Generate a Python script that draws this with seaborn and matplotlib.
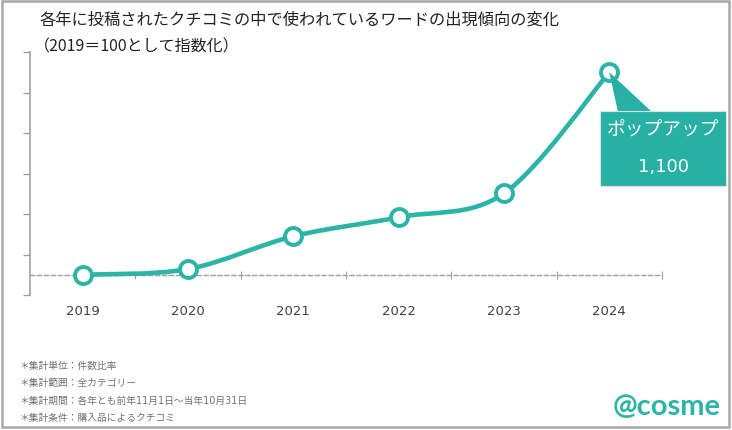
# Word trend chart: index of review mentions (2019 = 100)
import matplotlib.pyplot as plt
import seaborn as sns
import pandas as pd
from matplotlib.path import Path
from matplotlib.patches import PathPatch, Rectangle, Polygon

years = ["2019", "2020", "2021", "2022", "2023", "2024"]
index_values = [100, 128, 290, 384, 502, 1100]
callout_word = "ポップアップ"
callout_value = "1,100"

title = "各年に投稿されたクチコミの中で使われているワードの出現傾向の変化"
subtitle = "（2019＝100として指数化）"
notes = [
    "＊集計単位：件数比率",
    "＊集計範囲：全カテゴリー",
    "＊集計期間：各年とも前年11月1日～当年10月31日",
    "＊集計条件：購入品によるクチコミ",
]

TEAL = "#2AB5A6"
BOX = "#27B1A5"
GRAY = "#A0A0A0"

sns.set_theme(style="white")
# DejaVu first for the wide Verdana-like digits, CJK falls back to Noto
plt.rcParams["font.family"] = ["DejaVu Sans", "Noto Sans CJK JP"]

df = pd.DataFrame({"pos": range(len(years)), "value": index_values})

fig = plt.figure(figsize=(7.32, 4.31), dpi=100)
ax = fig.add_axes([30 / 732, 1 - 296 / 431, 632 / 732, 243 / 431])

# smoothed line (Catmull-Rom style bezier through the data points)
pts = list(zip(df["pos"], df["value"]))
verts = [pts[0]]
codes = [Path.MOVETO]
for i in range(len(pts) - 1):
    p0 = pts[i - 1] if i > 0 else pts[i]
    p1 = pts[i]
    p2 = pts[i + 1]
    p3 = pts[i + 2] if i + 2 < len(pts) else pts[i + 1]
    c1 = (p1[0] + (p2[0] - p0[0]) / 6, p1[1] + (p2[1] - p0[1]) / 6)
    c2 = (p2[0] - (p3[0] - p1[0]) / 6, p2[1] - (p3[1] - p1[1]) / 6)
    verts += [c1, c2, p2]
    codes += [Path.CURVE4] * 3
ax.add_patch(PathPatch(Path(verts, codes), fill=False, edgecolor=TEAL,
                       lw=3.3, capstyle="round", zorder=3))

sns.scatterplot(data=df, x="pos", y="value", ax=ax, s=150, color="white",
                edgecolor=TEAL, linewidth=2.8, zorder=4, legend=False)

ax.set_xlim(-0.5, len(years) - 0.5)
ax.set_ylim(0, 1200)
ax.set_xlabel("")
ax.set_ylabel("")

ax.set_yticks(range(0, 1201, 200))
ax.tick_params(axis="y", which="major", left=True, length=5, width=1,
               color=GRAY, labelleft=False)

# horizontal axis crosses at 100, dashed
ax.spines["bottom"].set_position(("data", 100))
ax.spines["bottom"].set_linestyle((0, (3, 2)))
ax.spines["bottom"].set_color(GRAY)
ax.spines["bottom"].set_linewidth(1)
ax.spines["left"].set_color(GRAY)
ax.spines["left"].set_linewidth(1.2)
ax.spines["top"].set_visible(False)
ax.spines["right"].set_visible(False)

ax.set_xticks(range(len(years)))
ax.set_xticklabels(years)
ax.set_xticks([i + 0.5 for i in range(len(years))], minor=True)
ax.tick_params(axis="x", which="major", bottom=True, length=0, pad=21,
               labelsize=9.5, labelcolor="#404040")
ax.tick_params(axis="x", which="minor", bottom=True, direction="inout",
               length=6, width=0.8, color=GRAY)

# callout box and pointer
fig.canvas.draw()
tip = ax.transData.transform((len(years) - 1, index_values[-1]))
tip = fig.transFigure.inverted().transform(tip)
fig.patches.append(Polygon([tip, (618 / 732, 1 - 113 / 431), (652 / 732, 1 - 113 / 431)],
                           closed=True, facecolor=BOX, edgecolor="none",
                           transform=fig.transFigure, zorder=2))
fig.patches.append(Rectangle((600 / 732, 1 - 187 / 431), 126 / 732, 75 / 431,
                             facecolor=BOX, edgecolor="#E0E0E0", lw=0.8,
                             transform=fig.transFigure, zorder=2))
fig.text(663 / 732, 1 - 130 / 431, callout_word, color="white", fontsize=13.5,
         ha="center", va="center")
fig.text(663 / 732, 1 - 167 / 431, callout_value, color="white", fontsize=13,
         ha="center", va="center")

# titles
fig.text(40 / 732, 1 - 20 / 431, title, fontsize=11.7, color="#222222",
         ha="left", va="center")
fig.text(34 / 732, 1 - 47 / 431, subtitle, fontsize=11.5, color="#222222",
         ha="left", va="center", family=["Noto Sans CJK JP"])

# footnotes
for i, note in enumerate(notes):
    fig.text(20 / 732, 1 - (366 + i * 17.5) / 431, note, fontsize=7,
             color="#707070", ha="left", va="center")

# logo
fig.text(667 / 732, 1 - 407 / 431, "@cosme", fontsize=21, color=TEAL,
         fontweight="bold", family=["Lato", "DejaVu Sans"],
         ha="center", va="center")

# outer frame
fig.patches.append(Rectangle((2 / 732, 3 / 431), 727 / 732, 426 / 431,
                             fill=False, edgecolor="#A8A8A8", lw=1.8,
                             transform=fig.transFigure))

fig.savefig("out.png", dpi=100)
